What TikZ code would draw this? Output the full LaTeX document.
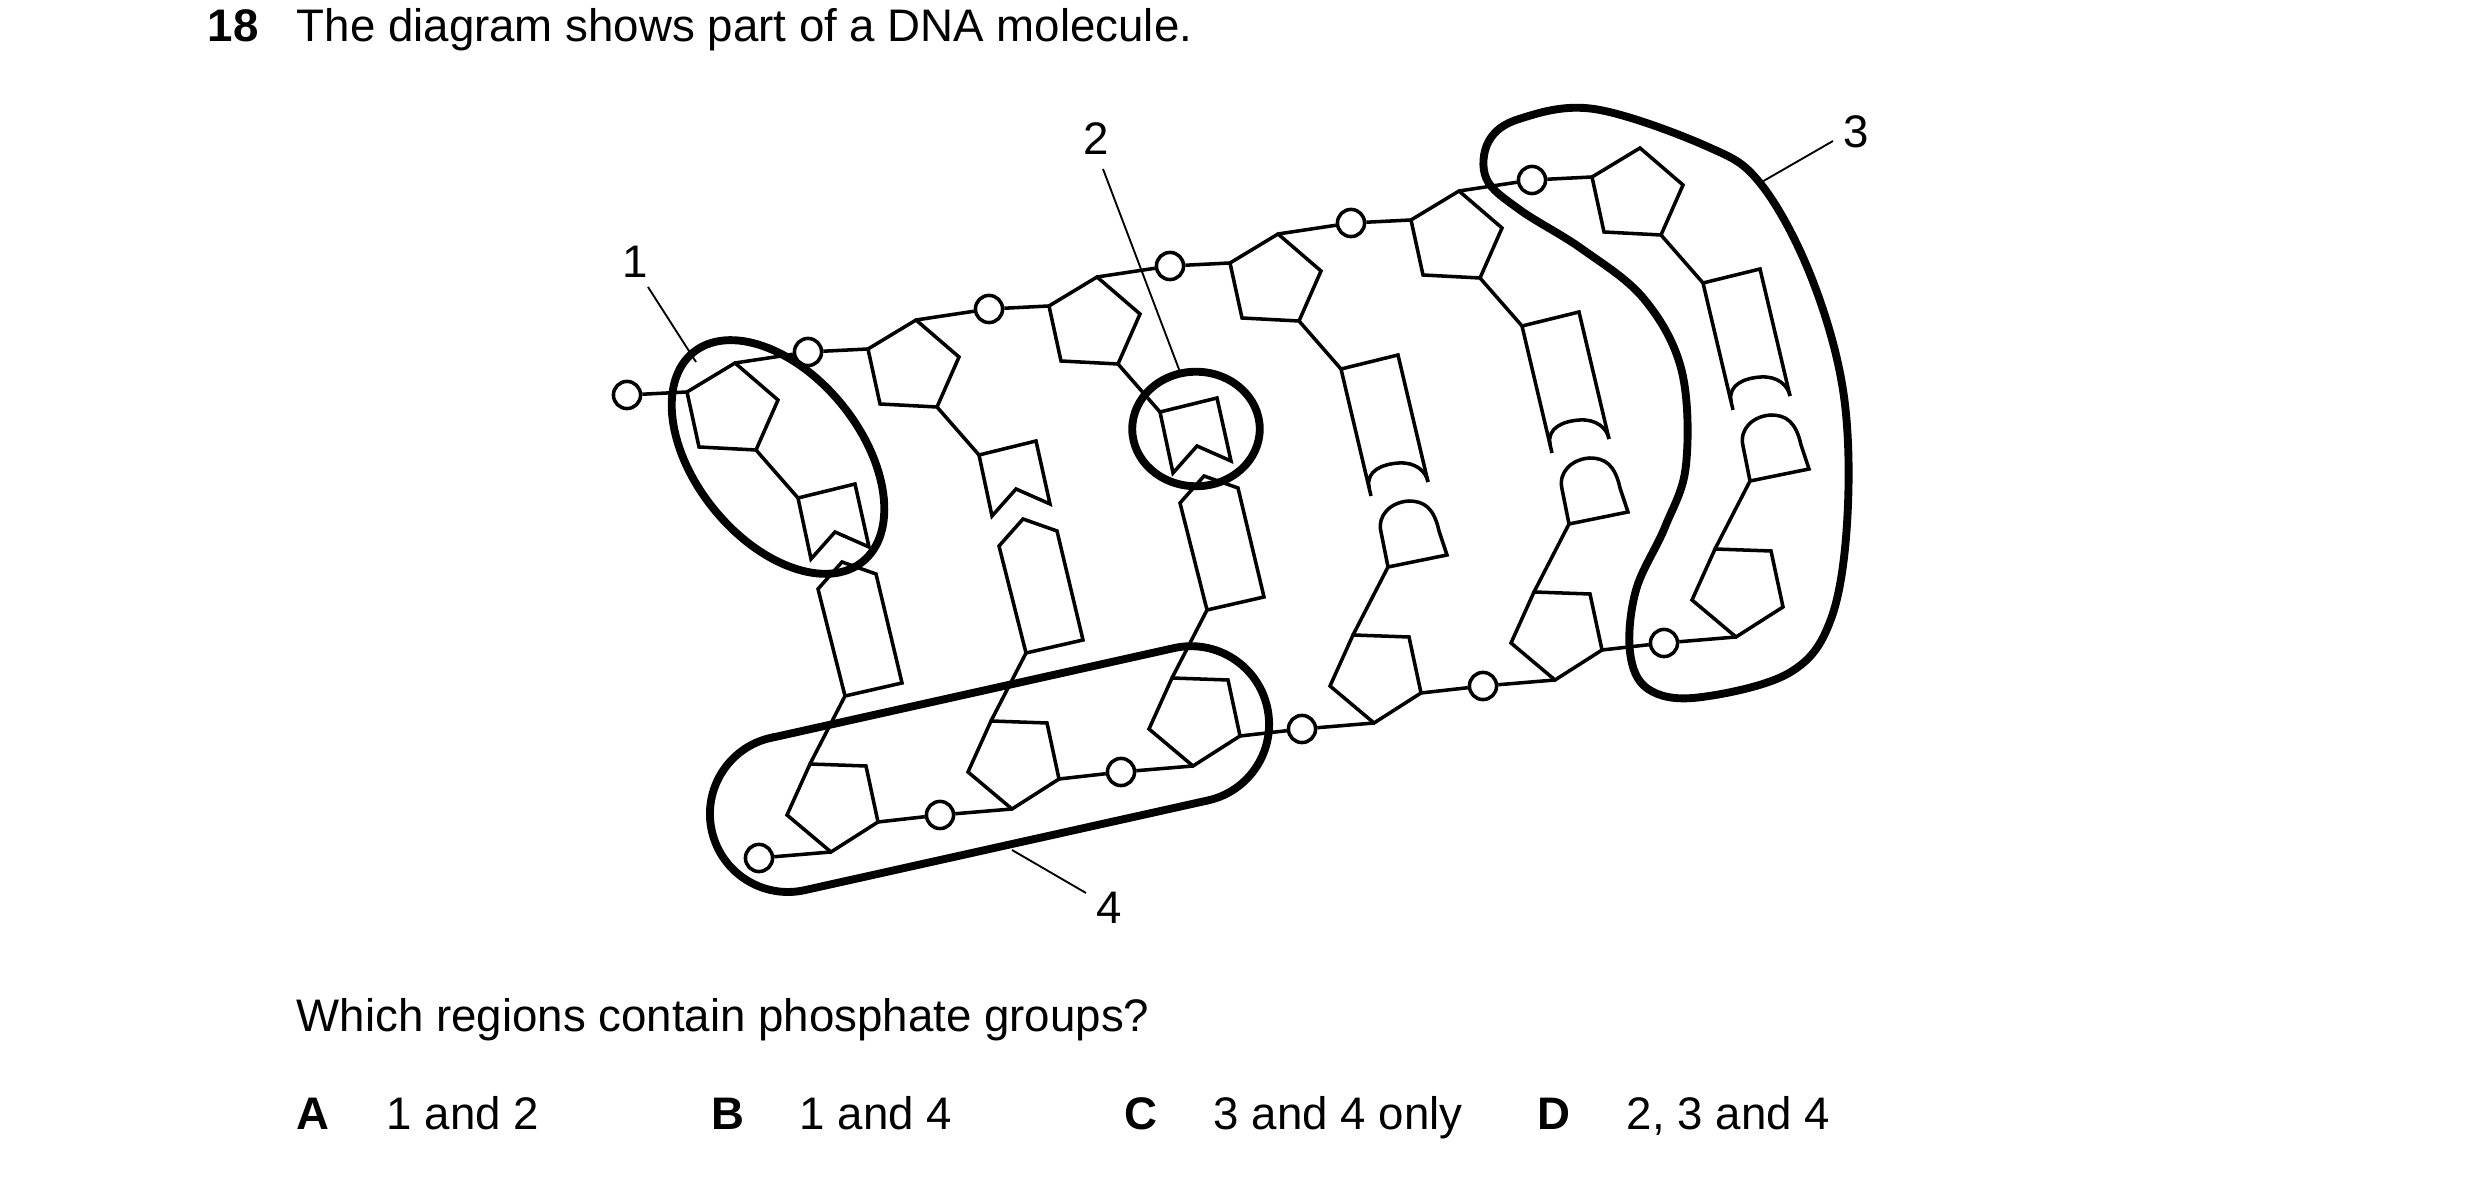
\documentclass[tikz,border=0pt]{standalone}
\usepackage{fontspec}
\setmainfont{Liberation Sans}
\begin{document}
\begin{tikzpicture}[x=0.0847mm,y=-0.0847mm,
  ln/.style={line width=0.85pt,line join=miter},
  loopd/.style={line width=1.9pt},
  lead/.style={line width=0.45pt},
  phos/.style={circle,draw,line width=0.85pt,minimum size=2.3mm,inner sep=0pt,fill=white},
  lab/.style={font=\fontsize{11}{13}\selectfont,inner sep=0pt},
  txt/.style={font=\fontsize{11}{13}\selectfont,inner sep=0pt,anchor=base west}]
\useasboundingbox (0,0) rectangle (2480,1180);
% columns
\foreach \k in {0,...,5}{
 \begin{scope}[shift={(687+181*\k,392-43*\k)}]
  \node[phos] (tp\k) at (-60,3) {};
  \node[phos] (bp\k) at (72,466) {};
  \coordinate (tA\k) at (0,0);
  \coordinate (tB\k) at (48,-29);
  \coordinate (tD\k) at (69,58);
  \coordinate (bP1\k) at (123,372);
  \coordinate (bP3\k) at (191,430);
  \coordinate (bP4\k) at (144,460);
  \draw[ln] (tA\k) -- (tB\k) -- (91,8) -- (tD\k) -- (12,55) -- cycle;
  \draw[ln] (bP1\k) -- (179,374) -- (bP3\k) -- (bP4\k) -- (100,423) -- cycle;
  \draw[ln] (tp\k) -- (tA\k);
  \draw[ln] (bp\k) -- (bP4\k);
  \draw[ln] (tD\k) -- (111,106);
  \draw[ln] (158,304) -- (bP1\k);
  \ifnum\k<3
   \draw[ln] (111,106) -- (168,92) -- (182,155) -- (148,140) -- (124,167) -- cycle;
   \draw[ln] (131,197) -- (155,170) -- (189,182) -- (215,291) -- (158,304) -- cycle;
  \else
   \draw[ln] (141,233) -- (111,106) -- (168,92) -- (198,219);
   \draw[ln] (139,224) .. controls (136,208) and (152,201) .. (169,200) .. controls (185,199) and (196,208) .. (198,219);
   \draw[ln] (158,304) -- (217,292) -- (209,268) .. controls (204,245) and (194,238) .. (179,238) .. controls (161,239) and (147,252) .. (151,269) -- cycle;
  \fi
 \end{scope}
}
\foreach \k [evaluate=\k as \j using int(\k+1)] in {0,...,4}{
  \draw[ln] (tB\k) -- (tp\j);
  \draw[ln] (bP3\k) -- (bp\j);
}
% region 1
\draw[loopd] (778,457) ellipse [x radius=11.4mm, y radius=7.0mm, rotate=-51];
% region 2
\draw[loopd] (1196,429) ellipse [x radius=5.4mm, y radius=4.85mm];
% region 4 (stadium)
\draw[loopd] (771,737.9) -- (1174,648.1) arc[start angle=102.6, end angle=-77.4, radius=6.61mm]
  -- (805,890.1) arc[start angle=282.6, end angle=102.6, radius=6.61mm] -- cycle;
% region 3
\draw[loopd] plot[smooth cycle, tension=0.6] coordinates {(1594,109) (1706,146) (1760,183) (1810,274) (1843,390) (1847.5,515) (1831,619) (1789,673) (1698,697.5) (1648,689) (1630,652) (1636,590) (1665,527) (1686,465) (1681.5,370) (1644,299) (1582,249) (1520,210) (1486.5,179) (1488.6,141.5) (1520,118.7)};
% labels
\node[lab] (n1) at (635,262) {1};
\node[lab] (n2) at (1096,139) {2};
\node[lab] (n3) at (1856,132) {3};
\node[lab] (n4) at (1109,908) {4};
\coordinate (e1) at (696,362);
\coordinate (e2) at (1180,372);
\coordinate (e3) at (1760,183);
\coordinate (e4) at (1012,850);
\draw[lead] (648,287) -- (e1);
\draw[lead] (1103,169) -- (e2);
\draw[lead] (1833,141) -- (e3);
\draw[lead] (1086,893) -- (e4);
% text
\node[txt] (q) at (207,42) {\textbf{18}};
\node[txt] (t) at (296,42) {The diagram shows part of a DNA molecule.};
\node[txt] (w) at (296,1032) {Which regions contain phosphate groups?};
\node[txt] (oa) at (296,1130) {\textbf{A}};
\node[txt] (ta) at (386,1130) {1 and 2};
\node[txt] (ob) at (711,1130) {\textbf{B}};
\node[txt] (tb) at (799,1130) {1 and 4};
\node[txt] (oc) at (1124,1130) {\textbf{C}};
\node[txt] (tc) at (1213,1130) {3 and 4 only};
\node[txt] (od) at (1537,1130) {\textbf{D}};
\node[txt] (td) at (1626,1130) {2, 3 and 4};
\end{tikzpicture}
\end{document}
